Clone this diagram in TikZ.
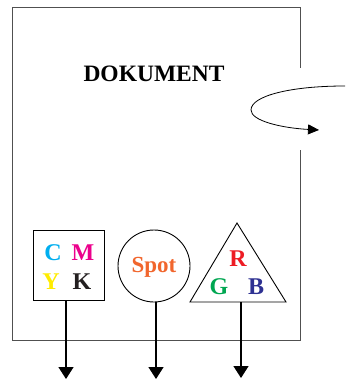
\documentclass[tikz,border=0pt]{standalone}
\usepackage{fontspec}
\setmainfont{Liberation Serif}
\usetikzlibrary{arrows.meta}
\definecolor{cC}{RGB}{0,174,239}
\definecolor{cM}{RGB}{236,0,140}
\definecolor{cY}{RGB}{255,236,0}
\definecolor{cK}{RGB}{35,31,32}
\definecolor{cSpot}{RGB}{241,102,45}
\definecolor{cR}{RGB}{237,28,36}
\definecolor{cG}{RGB}{0,166,81}
\definecolor{cB}{RGB}{46,49,146}
\definecolor{docline}{RGB}{80,80,80}
\tikzset{
  lbl/.style={font=\bfseries\fontsize{24}{26}\selectfont, inner sep=0pt, anchor=base},
  shapeline/.style={draw=black, line width=0.9pt},
  outarrow/.style={line width=1.4pt, -{Triangle[length=12pt,width=15pt]}},
}
\begin{document}
\begin{tikzpicture}[x=1pt,y=-1pt]
\useasboundingbox (0,0) rectangle (345,382);
% document outline with gap on the right
\draw[docline, line width=0.9pt] (300,68) -- (300,7) -- (12,7) -- (12,340) -- (300,340) -- (300,150);
\node[lbl, font=\bfseries\fontsize{23.5}{26}\selectfont] (dok) at (154,82) {DOKUMENT};
% rotation arrow
\coordinate (rotstart) at (345,86);
\coordinate (rotend) at (319,130);
\draw[line width=0.8pt, -{Triangle[length=11pt,width=10pt]}] (rotstart) .. controls (290,86) and (251,96) .. (251,110) .. controls (251,121) and (282,128) .. (rotend);
% CMYK box
\node[shapeline, minimum width=71pt, minimum height=70pt, inner sep=0pt] (cmyk) at (68.5,265) {};
\node[lbl, text=cC] (tC) at (53,260) {C};
\node[lbl, text=cM] (tM) at (83,260) {M};
\node[lbl, text=cY] (tY) at (51,289) {Y};
\node[lbl, text=cK] (tK) at (82,289) {K};
% Spot circle
\node[shapeline, circle, minimum size=72pt, inner sep=0pt] (spot) at (154,266) {};
\node[lbl, font=\bfseries\fontsize{23}{25}\selectfont, text=cSpot] (tSpot) at (154,272) {Spot};
% RGB triangle
\coordinate (apex) at (237,223);
\coordinate (bl) at (190,302);
\coordinate (br) at (286,302);
\draw[shapeline, line join=miter] (apex) -- (bl) -- (br) -- cycle;
\coordinate (rgbout) at (241,302);
\node[lbl, text=cR] (tR) at (238,266) {R};
\node[lbl, text=cG] (tG) at (219,294) {G};
\node[lbl, text=cB] (tB) at (256,294) {B};
% output arrows
\coordinate (e1) at (66,379);
\coordinate (e2) at (156,379);
\coordinate (e3) at (241,378);
\draw[outarrow] (cmyk.south -| e1) -- (e1);
\draw[outarrow] (spot.south -| e2) -- (e2);
\draw[outarrow] (rgbout) -- (e3);
\end{tikzpicture}
\end{document}
